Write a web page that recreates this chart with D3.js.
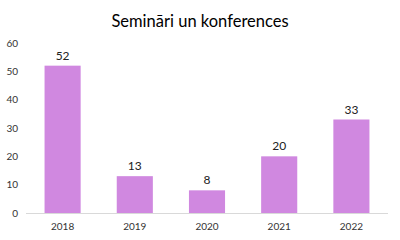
<!DOCTYPE html>
<html><head><meta charset="utf-8">
<script src="https://cdn.jsdelivr.net/npm/d3@7"></script>
<style>body{margin:0;background:#fff}svg{display:block}</style>
</head><body>
<script>
const categories = ["2018","2019","2020","2021","2022"];
const values = [52,13,8,20,33];
const yTicks = [0,10,20,30,40,50,60];
const title = "Semināri un konferences";

const W=400,H=240;
const font = "Lato, 'Open Sans', sans-serif";
const svg = d3.select("body").append("svg").attr("width",W).attr("height",H);
const x = d3.scaleBand().domain(categories).range([26.5,387.5]).paddingInner(0.5).paddingOuter(0.25);
const y = d3.scaleLinear().domain([0,60]).range([213,43]);

svg.append("text").attr("x",200).attr("y",27).attr("text-anchor","middle")
  .attr("font-family",font).attr("font-size",16.5).attr("fill","#000").text(title);

const ya = svg.append("g").attr("transform","translate(18,0)")
  .call(d3.axisLeft(y).tickValues(yTicks).tickSize(0).tickPadding(0));
ya.select(".domain").remove();
ya.selectAll("text").attr("font-family",font).attr("font-size",10).attr("fill","#333");

svg.selectAll("rect.bar").data(values).join("rect").attr("class","bar")
  .attr("x",(d,i)=>x(categories[i])).attr("width",x.bandwidth())
  .attr("y",d=>y(d)).attr("height",d=>y(0)-y(d)).attr("fill","#D088E0");

svg.append("line").attr("x1",26).attr("x2",388).attr("y1",y(0)+0.5).attr("y2",y(0)+0.5)
  .attr("stroke","#D9D9D9").attr("stroke-width",1);

const xa = svg.append("g").attr("transform",`translate(0,${y(0)})`)
  .call(d3.axisBottom(x).tickSize(0).tickPadding(10));
xa.select(".domain").remove();
xa.selectAll("text").attr("font-family",font).attr("font-size",10).attr("fill","#333");

svg.selectAll("text.lbl").data(values).join("text").attr("class","lbl")
  .attr("x",(d,i)=>x(categories[i])+x.bandwidth()/2).attr("y",d=>y(d)-6)
  .attr("text-anchor","middle").attr("font-family",font).attr("font-size",12).attr("fill","#222")
  .text(d=>d);
</script>
</body></html>
